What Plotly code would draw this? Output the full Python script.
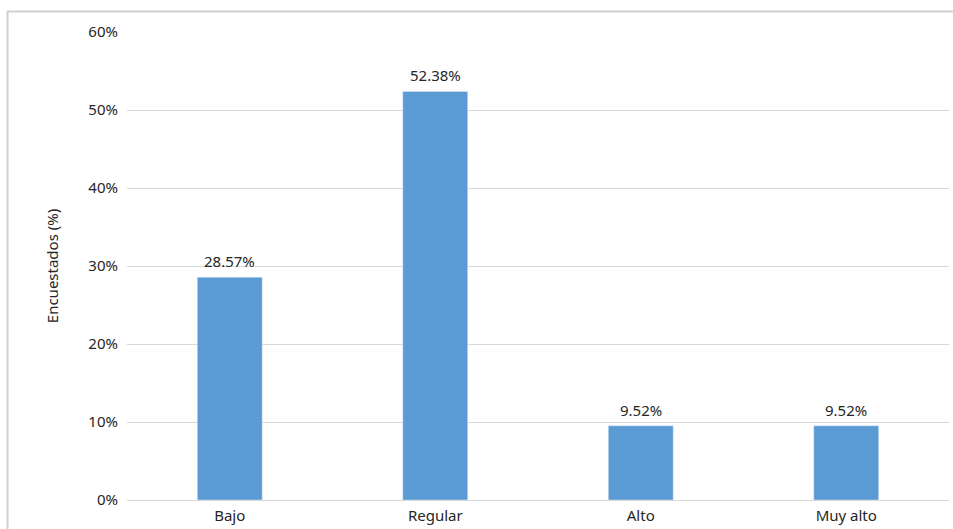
import plotly.graph_objects as go

categories = ["Bajo", "Regular", "Alto", "Muy alto"]
values = [28.57, 52.38, 9.52, 9.52]
tick_vals = [0, 10, 20, 30, 40, 50, 60]
tick_text = ["0%", "10%", "20%", "30%", "40%", "50%", "60%"]
y_title = "Encuestados (%)"

W, H = 953, 529
L, R, T, B = 127, 4, 32, 29
pw, ph = W - L - R, H - T - B

font = "Noto Sans, Open Sans, sans-serif"
txt_color = "#262626"
fs = 15

fig = go.Figure(go.Bar(
    x=categories, y=values,
    marker_color="#5b9bd5",
    hoverinfo="skip",
))

for c, v in zip(categories, values):
    fig.add_annotation(x=c, y=v, text=f"{v:.2f}%", showarrow=False,
                       yanchor="bottom", yshift=4,
                       font=dict(family=font, size=fs, color=txt_color))

fig.update_layout(
    width=W, height=H,
    margin=dict(l=L, r=R, t=T, b=B),
    paper_bgcolor="white", plot_bgcolor="white",
    bargap=0.684,
    showlegend=False,
    font=dict(family=font, size=fs, color=txt_color),
    xaxis=dict(showgrid=False, showline=False, ticks="", ticklabelstandoff=5,
               tickfont=dict(family=font, size=fs, color=txt_color)),
    yaxis=dict(range=[0, 60], tickvals=tick_vals, ticktext=tick_text,
               showgrid=True, gridcolor="#d9d9d9", gridwidth=1,
               zeroline=True, zerolinecolor="#d9d9d9", zerolinewidth=1,
               showline=False, ticks="", ticklabelstandoff=8,
               tickfont=dict(family=font, size=fs, color=txt_color),
               title=dict(text=y_title, standoff=26,
                          font=dict(family=font, size=fs, color=txt_color))),
    shapes=[
        dict(type="line", xref="paper", yref="paper",
             x0=(7 - L) / pw, x1=(W + 20 - L) / pw,
             y0=1 + (T - 11.5) / ph, y1=1 + (T - 11.5) / ph,
             line=dict(color="#d0d0d0", width=2), layer="above"),
        dict(type="line", xref="paper", yref="paper",
             x0=(7.5 - L) / pw, x1=(7.5 - L) / pw,
             y0=-(B + 20) / ph, y1=1 + (T - 11) / ph,
             line=dict(color="#d0d0d0", width=2), layer="above"),
    ],
)

fig.write_html("out.html", config={"displayModeBar": False},
               post_script="document.body.style.margin='0px';")
